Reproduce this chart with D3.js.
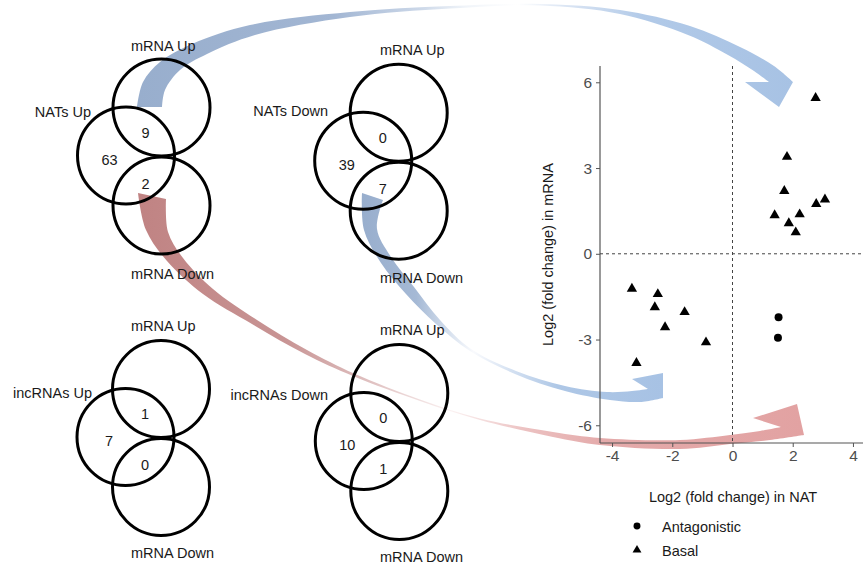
<!DOCTYPE html>
<html><head><meta charset="utf-8">
<script src="https://cdn.jsdelivr.net/npm/d3@7"></script>
<style>html,body{margin:0;padding:0;background:#fff;} svg{display:block;font-family:"Liberation Sans",Arial,sans-serif;}</style>
</head><body><svg id="chart" width="863" height="566"></svg>
<script>
// ---------------- data ----------------
const natLog2FC  = [2.76, 1.81, 1.72, 2.78, 3.07, 1.40, 2.23, 1.87, 2.10, -3.34, -2.48, -2.58, -1.59, -2.24, -0.88, -3.19, 1.53, 1.51];
const mrnaLog2FC = [5.45, 3.39, 2.20, 1.74, 1.90, 1.35, 1.38, 1.07, 0.75, -1.22, -1.41, -1.87, -2.04, -2.57, -3.10, -3.82, -2.22, -2.94];
const pointType  = ["Basal","Basal","Basal","Basal","Basal","Basal","Basal","Basal","Basal",
                    "Basal","Basal","Basal","Basal","Basal","Basal","Basal","Antagonistic","Antagonistic"];
const xTicks = [-4, -2, 0, 2, 4];
const yTicks = [-6, -3, 0, 3, 6];
const legendLabels = ["Antagonistic", "Basal"];
const xTitle = "Log2 (fold change) in NAT";
const yTitle = "Log2 (fold change) in mRNA";

const vennRowNames   = ["NATs Up", "NATs Down", "incRNAs Up", "incRNAs Down"];
const vennTopName    = "mRNA Up";
const vennBottomName = "mRNA Down";
const vennOnlyCounts = [63, 39, 7, 10];
const vennUpCounts   = [9, 0, 1, 0];
const vennDownCounts = [2, 7, 0, 1];

// ---------------- layout ----------------
const svg = d3.select("#chart");
const FONT = 14.5, TICKFONT = 15.5;
const plot = {left: 600, right: 865, top: 66, bottom: 443};
const x = d3.scaleLinear().domain([-4.4, 4.4]).range([plot.left, plot.right]);
const y = d3.scaleLinear().domain([-6.62, 6.57]).range([plot.bottom, plot.top]);

const vennLayout = [
  {cx: 161.5, cy: 107.5, lx: 131, nameX: 91,  nameY: 117, upY: 51,  downY: 279},
  {cx: 398.7, cy: 112.7, lx: 380, nameX: 328, nameY: 116, upY: 55,  downY: 283},
  {cx: 161.0, cy: 389.0, lx: 131, nameX: 92,  nameY: 398, upY: 331, downY: 558},
  {cx: 399.3, cy: 393.0, lx: 380, nameX: 328, nameY: 400, upY: 335, downY: 562}
];
const R = 48.5, leftOff = [-35.5, 48], bottomOff = [0, 98];

// ---------------- curved arrows (annotation, drawn behind) ----------------
const arrows = [
  { id: "gA",
    outer: [[137,107],[143,82],[160,62],[192,44],[250,25],[350,12],[450,6],[540,4],[620,10],[690,26],[740,47],[774,66],[793,82]],
    inner: [[162,107],[165,90],[180,70],[207,54],[255,35],[350,17],[450,8.5],[540,5.5],[620,14],[688,35],[728,55],[754,71],[769,82]],
    tip: [779,107], barb: [745,82],
    x1: 137, x2: 793,
    stops: [[0,"#98aecd"],[0.3,"#a2b6d3"],[0.43,"#cbd7e8"],[0.5,"#f0f4f9"],[0.58,"#ffffff"],[0.65,"#dce6f4"],[0.77,"#b2cae8"],[1,"#a7c2e4"]] },
  { id: "gB",
    outer: [[362,193],[364,230],[381,263],[406,294],[436,324],[470,351],[515,374],[565,391],[610,400],[640,402],[663,398]],
    inner: [[383,200],[377,229],[391,257],[414,287],[440,320],[471,349],[516,371],[565,386],[607,392],[632,391],[648,389]],
    tip: [663,373], barb: [632,379],
    x1: 362, x2: 663,
    stops: [[0,"#98aecd"],[0.18,"#a5b9d5"],[0.3,"#dbe4f0"],[0.37,"#f9fafd"],[0.5,"#d3e0f1"],[0.65,"#aec7e6"],[1,"#a7c2e4"]] },
  { id: "gC",
    outer: [[138,193],[146,230],[167,261],[203,294],[252,324],[305,354],[353,376],[420,401],[480,420],[553,437],[600,445],[680,449],[730,444],[770,440],[804,435]],
    inner: [[166,199],[168,232],[183,258],[213,289],[257,320],[307,350],[354,373.5],[420,399.5],[480,418.5],[553,432],[600,438],[680,440],[730,435],[760,431],[781,427]],
    tip: [797,404], barb: [753,418],
    x1: 138, x2: 804,
    stops: [[0,"#c08383"],[0.22,"#c89494"],[0.36,"#e2c5c5"],[0.47,"#fbf2f2"],[0.58,"#ecc2c2"],[0.7,"#e4aaaa"],[1,"#e2a2a2"]] }
];
const defs = svg.append("defs");
const edge = d3.line().curve(d3.curveCatmullRom.alpha(0.5));
const ag = svg.append("g");
arrows.forEach(a => {
  const grad = defs.append("linearGradient").attr("id", a.id).attr("gradientUnits", "userSpaceOnUse")
    .attr("x1", a.x1).attr("x2", a.x2).attr("y1", 0).attr("y2", 0);
  a.stops.forEach(s => grad.append("stop").attr("offset", s[0]).attr("stop-color", s[1]));
  const o = edge(a.outer);
  const inn = edge(a.inner.slice().reverse()).replace(/^M/, "L");
  ag.append("path").attr("d", `${o}L${a.tip[0]},${a.tip[1]}L${a.barb[0]},${a.barb[1]}${inn}Z`)
    .attr("fill", `url(#${a.id})`);
});

// ---------------- Venn diagrams ----------------
const vg = svg.append("g");
vennLayout.forEach((v, i) => {
  const g = vg.append("g");
  const circles = [[v.cx, v.cy], [v.cx + leftOff[0], v.cy + leftOff[1]], [v.cx + bottomOff[0], v.cy + bottomOff[1]]];
  g.selectAll("circle").data(circles).join("circle")
    .attr("cx", d => d[0]).attr("cy", d => d[1]).attr("r", R)
    .attr("fill", "none").attr("stroke", "#000").attr("stroke-width", 3);
  const t = (tx, ty, s, anchor) => g.append("text").attr("x", tx).attr("y", ty)
    .attr("text-anchor", anchor).attr("font-size", FONT).attr("fill", "#1a1a1a").text(s);
  t(v.lx, v.upY, vennTopName, "start");
  t(v.lx, v.downY, vennBottomName, "start");
  t(v.nameX, v.nameY, vennRowNames[i], "end");
  const n = (dx, dy, s) => g.append("text").attr("x", v.cx + dx).attr("y", v.cy + dy)
    .attr("text-anchor", "middle").attr("dominant-baseline", "central")
    .attr("font-size", FONT).attr("fill", "#1a1a1a").text(s);
  n(-16, 25, vennUpCounts[i]);
  n(-52, 52, vennOnlyCounts[i]);
  n(-16, 76, vennDownCounts[i]);
});

// ---------------- scatter ----------------
const sg = svg.append("g");
const xAxis = d3.axisBottom(x).tickValues(xTicks).tickFormat(d => String(d)).tickSize(4).tickSizeOuter(0).tickPadding(3);
const yAxis = d3.axisLeft(y).tickValues(yTicks).tickFormat(d => String(d)).tickSize(4).tickSizeOuter(0).tickPadding(4);
const gx = sg.append("g").attr("transform", `translate(0,${plot.bottom})`).call(xAxis);
const gy = sg.append("g").attr("transform", `translate(${plot.left},0)`).call(yAxis);
[gx, gy].forEach(a => {
  a.select(".domain").attr("stroke", "#555").attr("stroke-width", 1.2);
  a.selectAll(".tick line").attr("stroke", "#555");
  a.selectAll(".tick text").attr("fill", "#4d4d4d").attr("font-size", TICKFONT)
    .attr("font-family", '"Liberation Sans",Arial,sans-serif');
});
gx.select(".domain").attr("d", `M${plot.left},0H${plot.right}`);
gy.select(".domain").attr("d", `M0,${plot.top}V${plot.bottom}`);

sg.append("line").attr("x1", x(0)).attr("x2", x(0)).attr("y1", plot.top).attr("y2", plot.bottom)
  .attr("stroke", "#444").attr("stroke-dasharray", "3,3");
sg.append("line").attr("x1", plot.left).attr("x2", plot.right).attr("y1", y(0)).attr("y2", y(0))
  .attr("stroke", "#444").attr("stroke-dasharray", "3,3");

const sym = d3.scaleOrdinal().domain(legendLabels).range([d3.symbolCircle, d3.symbolTriangle]);
const symSize = d3.scaleOrdinal().domain(legendLabels).range([50, 46]);
sg.selectAll("path.pt").data(natLog2FC.map((v, i) => ({x: v, y: mrnaLog2FC[i], t: pointType[i]})))
  .join("path").attr("class", "pt")
  .attr("transform", d => `translate(${x(d.x)},${y(d.y)})`)
  .attr("d", d => d3.symbol(sym(d.t), symSize(d.t))())
  .attr("fill", "#000");

sg.append("text").attr("x", 733).attr("y", 502).attr("text-anchor", "middle")
  .attr("font-size", FONT).attr("fill", "#1a1a1a").text(xTitle);
sg.append("text").attr("transform", `translate(553,${(plot.top + plot.bottom) / 2}) rotate(-90)`)
  .attr("text-anchor", "middle").attr("font-size", FONT).attr("fill", "#1a1a1a").text(yTitle);

const lg = sg.append("g");
legendLabels.forEach((lab, i) => {
  const ly = 526 + i * 24;
  lg.append("path").attr("transform", `translate(637,${ly})`)
    .attr("d", d3.symbol(sym(lab), i === 0 ? 38 : 34)()).attr("fill", "#000");
  lg.append("text").attr("x", 662).attr("y", ly + 5.5).attr("font-size", FONT).attr("fill", "#1a1a1a").text(lab);
});
</script></body></html>
